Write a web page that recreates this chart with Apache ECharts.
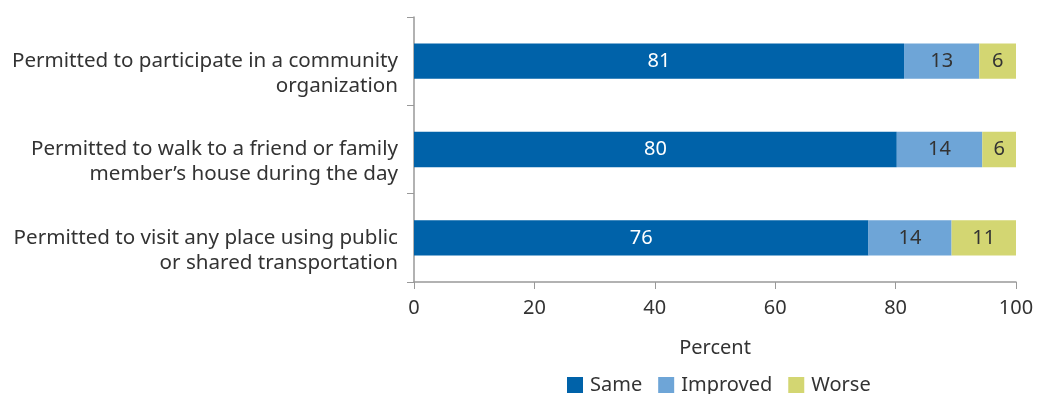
<!DOCTYPE html>
<html><head><meta charset="utf-8">
<script src="https://cdn.jsdelivr.net/npm/echarts@6/dist/echarts.min.js"></script>
<style>html,body{margin:0;padding:0;background:#fff}#c{width:1037px;height:394px}</style>
</head><body><div id="c"></div>
<script>
const categories = [
  "Permitted to participate in a community\norganization",
  "Permitted to walk to a friend or family\nmember\u2019s house during the day",
  "Permitted to visit any place using public\nor shared transportation"
];
const same = [81.4, 80.2, 75.5];
const improved = [12.5, 14.2, 13.8];
const worse = [6.1, 5.6, 10.7];
const sameLabels = [81, 80, 76];
const improvedLabels = [13, 14, 14];
const worseLabels = [6, 6, 11];
const xTicks = [0, 20, 40, 60, 80, 100];

const font = "Noto Sans";
const fs = 20;
const chart = echarts.init(document.getElementById('c'));
function lbl(arr, color) {
  return { show: true, position: 'inside', color: color, fontFamily: font, fontSize: fs,
    formatter: p => String(arr[p.dataIndex]) };
}
chart.setOption({
  animation: false,
  textStyle: { fontFamily: font },
  grid: { left: 414, right: 21, top: 17, bottom: 112 },
  legend: {
    top: 370, left: 562, itemWidth: 16, itemHeight: 16, itemGap: 16,
    icon: 'rect',
    textStyle: { fontFamily: font, fontSize: fs, color: '#333', padding: [0, 0, 0, 2] },
    data: ['Same', 'Improved', 'Worse']
  },
  xAxis: {
    type: 'value', min: xTicks[0], max: xTicks[xTicks.length - 1], interval: 20,
    name: 'Percent', nameLocation: 'middle', nameGap: 56,
    nameTextStyle: { fontFamily: font, fontSize: fs, color: '#333' },
    axisLine: { show: true, lineStyle: { color: '#999', width: 1.5 } },
    axisTick: { show: true, length: 7, lineStyle: { color: '#999' } },
    axisLabel: { fontFamily: font, fontSize: fs, color: '#333', margin: 16 },
    splitLine: { show: false }
  },
  yAxis: {
    type: 'category', inverse: true, data: categories,
    axisLine: { show: true, lineStyle: { color: '#999', width: 1.5 } },
    axisTick: { show: true, length: 7, lineStyle: { color: '#999' } },
    axisLabel: { fontFamily: font, fontSize: 20.6, color: '#333', margin: 16, lineHeight: 25,
      align: 'right', formatter: v => '\n' + v }
  },
  series: [
    { name: 'Same', type: 'bar', stack: 't', data: same, barWidth: '40%',
      itemStyle: { color: '#0062A9' }, label: lbl(sameLabels, '#fff') },
    { name: 'Improved', type: 'bar', stack: 't', data: improved,
      itemStyle: { color: '#6EA5D7' }, label: lbl(improvedLabels, '#333') },
    { name: 'Worse', type: 'bar', stack: 't', data: worse,
      itemStyle: { color: '#D3D672' }, label: lbl(worseLabels, '#333') }
  ]
});
</script></body></html>
